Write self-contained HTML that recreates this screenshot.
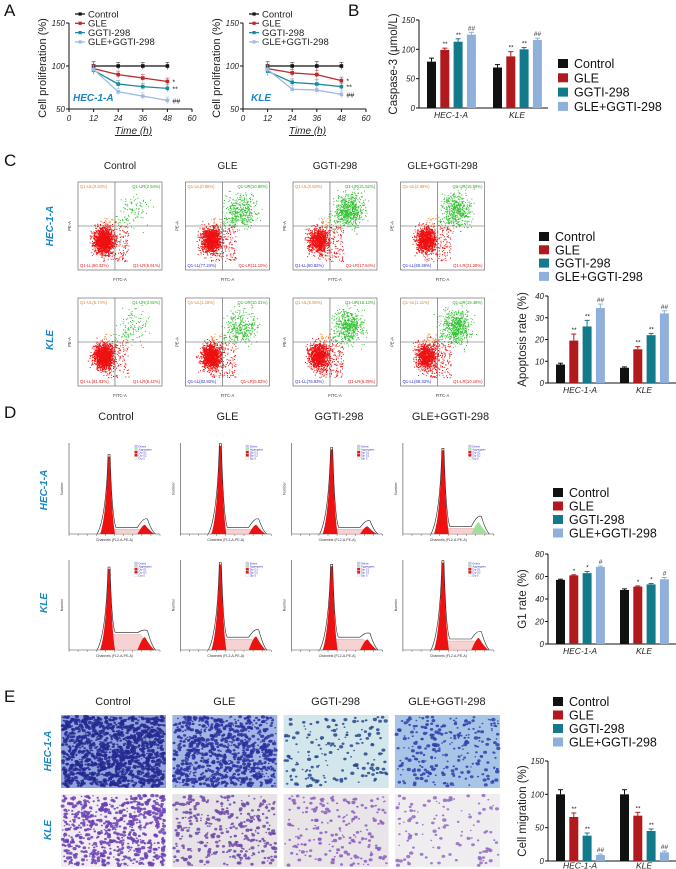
<!DOCTYPE html>
<html><head><meta charset="utf-8">
<style>
html,body{margin:0;padding:0;background:#fff;}
svg{display:block;font-family:"Liberation Sans",Arial,sans-serif;}
</style></head>
<body>
<svg id="fig" width="676" height="869" viewBox="0 0 676 869" xmlns="http://www.w3.org/2000/svg">
<g font-size="17" fill="#111">
<text x="4" y="16">A</text><text x="348" y="16">B</text><text x="4" y="166">C</text><text x="4" y="418">D</text><text x="4" y="702">E</text>
</g>
<g id="gA"></g>
<g id="gB"></g>
<g id="gC"></g>
<g id="gD"></g>
<g id="gE"></g>
</svg>
<script>
// ---------- data ----------
const groups = ["Control","GLE","GGTI-298","GLE+GGTI-298"];
const cellLines = ["HEC-1-A","KLE"];
const timePoints = [12,24,36,48];
const aTicksX = [0,12,24,36,48,60];
const aTicksY = [50,100,150];
const hecControl = [100,100,100,100];
const hecGLE = [97,90,86,82];
const hecGGTI = [95,79,76,74];
const hecCombo = [96,70,65,60];
const hecErr = [5,4,4,4];
const kleControl = [100,100,100,100];
const kleGLE = [97,92,90,83];
const kleGGTI = [94,81,79,76];
const kleCombo = [96,73,72,67];
const kleErr = [5,4,5,4];
const aMarks = ["*","**","##"];

const casHEC = [79,99,113,125];
const casKLE = [69,88,100,116];
const casErrHEC = [6,3,5,4];
const casErrKLE = [5,8,3,3];
const casTicks = [0,50,100,150];
const casMarks = ["","**","**","##"];

const apoHEC = [8.5,19.5,26,34.5];
const apoKLE = [7,15.5,22,32];
const apoErrHEC = [0.6,3,2.8,1.8];
const apoErrKLE = [0.4,1.2,0.8,1.2];
const apoTicks = [0,10,20,30,40];
const apoMarks = ["","**","**","##"];

const g1HEC = [57,61,63,68.5];
const g1KLE = [48,51,53,57.5];
const g1ErrHEC = [0.6,0.5,1.5,0.8];
const g1ErrKLE = [1,0.6,0.8,1.6];
const g1Ticks = [0,20,40,60,80];
const g1Marks = ["","*","*","#"];

const migHEC = [100,66,38,9];
const migKLE = [100,68,45,13];
const migErrHEC = [7,6,4,1.5];
const migErrKLE = [7,5,3,2];
const migTicks = [0,50,100,150];
const migMarks = ["","**","**","##"];

const colors = ["#111111","#b2191e","#137a8c","#8fb0db"];
const lineColors = ["#111111","#c0272d","#1b8a9b","#9dbbe3"];
const NS="http://www.w3.org/2000/svg";
function mk(parent,tag,attrs,text){const e=document.createElementNS(NS,tag);for(const k in attrs)e.setAttribute(k,attrs[k]);if(text!==undefined)e.textContent=text;parent.appendChild(e);return e;}

// ---------- Panel A ----------
function lineChart(g,axX,label,series,err,labX){
  const y0=109,yTop=23,x1=axX+123;
  const sx=v=>axX+(v/60)*(x1-axX);
  const sy=v=>y0-(v-50)/100*(y0-yTop);
  mk(g,"line",{x1:axX,y1:yTop,x2:axX,y2:y0,stroke:"#111","stroke-width":1});
  mk(g,"line",{x1:axX,y1:y0,x2:x1,y2:y0,stroke:"#111","stroke-width":1});
  aTicksY.forEach(t=>{mk(g,"line",{x1:axX-3,y1:sy(t),x2:axX,y2:sy(t),stroke:"#111"});
    const tl=mk(g,"text",{x:axX-4,y:sy(t)+3,"font-size":8,"font-style":"italic","text-anchor":"end",fill:"#222"},t);
    });
  aTicksX.forEach(t=>{mk(g,"line",{x1:sx(t),y1:y0,x2:sx(t),y2:y0+3,stroke:"#111"});
    const tl=mk(g,"text",{x:sx(t),y:y0+12,"font-size":8,"font-style":"italic","text-anchor":"middle",fill:"#222"},t);
    });
  const xt=mk(g,"text",{x:(axX+x1)/2+3,y:134,"font-size":10,"font-style":"italic","text-anchor":"middle",fill:"#222","text-decoration":"underline"},"Time (h)");
  
  const yt=mk(g,"text",{x:0,y:0,"font-size":11,"text-anchor":"middle",fill:"#222",transform:`translate(${axX-23},${(y0+yTop)/2+2}) rotate(-90)`},"Cell proliferation (%)");
  
  series.forEach((s,i)=>{
    const pts=s.map((v,j)=>sx(timePoints[j])+","+sy(v)).join(" ");
    const pl=mk(g,"polyline",{points:pts,fill:"none",stroke:lineColors[i],"stroke-width":1.3});
    
    
    s.forEach((v,j)=>{
      const cx=sx(timePoints[j]),cy=sy(v),e=err[j]*(y0-yTop)/100;
      mk(g,"line",{x1:cx,y1:cy-e,x2:cx,y2:cy+e,stroke:lineColors[i],"stroke-width":0.7,opacity:0.7});
      mk(g,"line",{x1:cx-2,y1:cy-e,x2:cx+2,y2:cy-e,stroke:lineColors[i],"stroke-width":0.7,opacity:0.7});
      const p=mk(g,"rect",{x:cx-1.8,y:cy-1.8,width:3.6,height:3.6,fill:lineColors[i]});
      
    });
    if(i>0){mk(g,"text",{x:sx(48)+5,y:sy(s[3])+3,"font-size":7,"font-style":i==3?"italic":"normal",fill:"#222"},aMarks[i-1]);}
  });
  const cl=mk(g,"text",{x:labX,y:101,"font-size":10,"font-weight":"bold","font-style":"italic",fill:"#1a86c2"},label);
  
  groups.forEach((nm,i)=>{
    const ly=14+i*9.3;
    mk(g,"line",{x1:axX+6,y1:ly,x2:axX+16,y2:ly,stroke:lineColors[i],"stroke-width":1.3});
    mk(g,"rect",{x:axX+9.5,y:ly-1.6,width:3.2,height:3.2,fill:lineColors[i]});
    const lt=mk(g,"text",{x:axX+19,y:ly+3.3,"font-size":9.5,fill:"#222"},nm);
    
  });
}
const gA=document.getElementById("gA");
lineChart(gA,69,"HEC-1-A",[hecControl,hecGLE,hecGGTI,hecCombo],hecErr,73);
lineChart(gA,243,"KLE",[kleControl,kleGLE,kleGGTI,kleCombo],kleErr,251);

// ---------- generic bar chart ----------
function barChart(g,o){
  const sy=v=>o.y0-(v/o.max)*(o.y0-o.yTop);
  const labOff=o.labOff||10;
  mk(g,"line",{x1:o.ax,y1:o.yTop,x2:o.ax,y2:o.y0,stroke:"#111"});
  mk(g,"line",{x1:o.ax,y1:o.y0,x2:o.ax+o.xLen,y2:o.y0,stroke:"#111"});
  o.ticks.forEach(t=>{mk(g,"line",{x1:o.ax-3,y1:sy(t),x2:o.ax,y2:sy(t),stroke:"#111"});
    const tl=mk(g,"text",{x:o.ax-4,y:sy(t)+3,"font-size":8,"font-style":"italic","text-anchor":"end",fill:"#222"},t);
    });
  const yt=mk(g,"text",{x:0,y:0,"font-size":11.5,"text-anchor":"middle",fill:"#222",transform:`translate(${o.ax-22},${(o.y0+o.yTop)/2}) rotate(-90)`},o.title);
  
  [o.d1,o.d2].forEach((d,gi)=>{
    const start=o.ax+(gi==0?8:o.g2off);
    const errs=gi==0?o.e1:o.e2;
    d.forEach((v,i)=>{
      const x=start+i*13.3, y=sy(v);
      const b=mk(g,"rect",{x:x,y:y,width:9,height:o.y0-y,fill:colors[i]});
      
      
      const e=errs[i]/o.max*(o.y0-o.yTop);
      mk(g,"line",{x1:x+4.5,y1:y,x2:x+4.5,y2:y-e,stroke:colors[i],"stroke-width":1});
      mk(g,"line",{x1:x+2,y1:y-e,x2:x+7,y2:y-e,stroke:colors[i],"stroke-width":1});
      if(o.marks[i])mk(g,"text",{x:x+4.5,y:y-e-2,"font-size":6.5,"font-style":"italic","text-anchor":"middle",fill:"#222"},o.marks[i]);
    });
    const gl=mk(g,"text",{x:start+24,y:o.y0+labOff,"font-size":8.5,"font-style":"italic","text-anchor":"middle",fill:"#222"},cellLines[gi]);
    
  });
}
function legend(g,x,y,step,fs){
  groups.forEach((nm,i)=>{
    const r=mk(g,"rect",{x:x,y:y+i*step-5,width:10,height:9,fill:colors[i]});
    
    const t=mk(g,"text",{x:x+16,y:y+i*step+4,"font-size":fs,fill:"#111"},nm);
    
  });
}
const gB=document.getElementById("gB");
barChart(gB,{ax:419,y0:108,yTop:20,max:150,xLen:129,g2off:74,d1:casHEC,d2:casKLE,e1:casErrHEC,e2:casErrKLE,ticks:casTicks,marks:casMarks,title:"Caspase-3 (μmol/L)"});
legend(gB,558,64,14.3,12.5);

// ---------- seeded rng (decorative textures) ----------
let seed=12345;function rnd(){seed=(seed*16807)%2147483647;return (seed-1)/2147483646;}
function gauss(){return (rnd()+rnd()+rnd()+rnd()-2)/0.8;}

// ---------- Panel C ----------
const gC=document.getElementById("gC");
const flowGreen=[[0.03,0.13,0.22,0.18],[0.04,0.12,0.18,0.2]];
const flowLabels=[
 [["Q1-UL(0.23%)","Q1-UR(2.54%)","Q1-LL(90.32%)","Q1-LR(6.91%)"],["Q1-UL(0.88%)","Q1-UR(10.80%)","Q1-LL(77.24%)","Q1-LR(11.10%)"],["Q1-UL(0.53%)","Q1-UR(21.52%)","Q1-LL(60.82%)","Q1-LR(17.64%)"],["Q1-UL(2.68%)","Q1-UR(15.59%)","Q1-LL(60.49%)","Q1-LR(21.28%)"]],
 [["Q1-UL(5.74%)","Q1-UR(3.92%)","Q1-LL(81.93%)","Q1-LR(8.42%)"],["Q1-UL(1.18%)","Q1-UR(10.31%)","Q1-LL(82.93%)","Q1-LR(5.63%)"],["Q1-UL(0.55%)","Q1-UR(16.13%)","Q1-LL(76.93%)","Q1-LR(6.39%)"],["Q1-UL(1.11%)","Q1-UR(19.48%)","Q1-LL(68.33%)","Q1-LR(10.16%)"]]];
groups.forEach((nm,c)=>{const t=mk(gC,"text",{x:120+c*107.5,y:169,"font-size":10,"text-anchor":"middle",fill:"#222"},nm);
  });
["HEC-1-A","KLE"].forEach((nm,r)=>{const t=mk(gC,"text",{x:0,y:0,"font-size":10,"font-weight":"bold","font-style":"italic","text-anchor":"middle",fill:"#1a86c2",transform:`translate(${53},${226+r*114}) rotate(-90)`},nm);
  });
for(let r=0;r<2;r++)for(let c=0;c<4;c++){
  const x=78+c*107.5,y=182+r*116,w=84,h=88;
  const pg=mk(gC,"g",{});
  mk(pg,"rect",{x:x,y:y,width:w,height:h,fill:"#fff",stroke:"#555","stroke-width":0.6});
  const qx=x+w*0.44,qy=y+h*0.5;
  const N=1700;
  for(let i=0;i<N;i++){
    let px,py,col;
    const u=rnd();
    if(u<flowGreen[r][c]*1.6){px=x+w*(0.66+0.12*gauss());py=y+h*(0.32+0.13*gauss());col="#33c033";}
    else if(u<0.88){px=x+w*(0.3+0.08*gauss());py=y+h*(0.66+0.1*gauss());col="#ee1111";}
    else{px=x+w*(0.3+0.3*rnd());py=y+h*(0.4+0.5*rnd());col=(py<qy)?"#33c033":"#ee1111";if(px<qx&&py<qy)col="#f09030";}
    if(px<x+2||px>x+w-2||py<y+2||py>y+h-2)continue;
    mk(pg,"rect",{x:px.toFixed(1),y:py.toFixed(1),width:1,height:1,fill:col});
  }
  mk(pg,"line",{x1:qx,y1:y,x2:qx,y2:y+h,stroke:"#555","stroke-width":0.6});
  mk(pg,"line",{x1:x,y1:qy,x2:x+w,y2:qy,stroke:"#555","stroke-width":0.6});
  const L=flowLabels[r][c];
  mk(pg,"text",{x:x+2,y:y+6,"font-size":4.2,fill:"#e08a30"},L[0]);
  mk(pg,"text",{x:x+w-2,y:y+6,"font-size":4.2,fill:"#22aa22","text-anchor":"end"},L[1]);
  mk(pg,"text",{x:x+2,y:y+h-3,"font-size":4.2,fill:c==0?"#e02020":"#3030cc"},L[2]);
  mk(pg,"text",{x:x+w-2,y:y+h-3,"font-size":4.2,fill:"#e02020","text-anchor":"end"},L[3]);
  mk(pg,"text",{x:x+w/2,y:y+h+11,"font-size":4.2,fill:"#333","text-anchor":"middle"},"FITC-A");
  mk(pg,"text",{x:0,y:0,"font-size":4.2,fill:"#333","text-anchor":"middle",transform:`translate(${x-7},${y+h/2}) rotate(-90)`},"PE-A");
}
barChart(gC,{ax:548,y0:383,yTop:296,max:40,xLen:128,g2off:72,d1:apoHEC,d2:apoKLE,e1:apoErrHEC,e2:apoErrKLE,ticks:apoTicks,marks:apoMarks,title:"Apoptosis rate (%)"});
legend(gC,539,237,13.3,12.5);

// ---------- Panel D ----------
const gD=document.getElementById("gD");
const peakH=[[0.85,0.97,0.93,0.92],[0.9,0.95,0.93,0.97]];
const g2H=[[0.12,0.12,0.1,0.15],[0.17,0.18,0.14,0.16]];
const sH=[[0.05,0.05,0.05,0.06],[0.17,0.12,0.12,0.1]];
groups.forEach((nm,c)=>{const t=mk(gD,"text",{x:116+c*111.5,y:420,"font-size":11,"text-anchor":"middle",fill:"#222"},nm);
  });
["HEC-1-A","KLE"].forEach((nm,r)=>{const t=mk(gD,"text",{x:0,y:0,"font-size":10,"font-weight":"bold","font-style":"italic","text-anchor":"middle",fill:"#1a86c2",transform:`translate(${47},${490+r*113}) rotate(-90)`},nm);
  });
for(let r=0;r<2;r++)for(let c=0;c<4;c++){
  const x=69+c*111.3,base=r==0?534:650,top=r==0?443:560,w=91,h=base-top;
  const pg=mk(gD,"g",{});
  mk(pg,"line",{x1:x,y1:top,x2:x,y2:base,stroke:"#444","stroke-width":0.6});
  mk(pg,"line",{x1:x,y1:base,x2:x+w,y2:base,stroke:"#444","stroke-width":0.6});
  for(let k=0;k<=10;k++)mk(pg,"line",{x1:x+k*w/10,y1:base,x2:x+k*w/10,y2:base+2,stroke:"#444","stroke-width":0.4});
  const px=x+w*0.44,gx=x+w*0.84,H=h*peakH[r][c],G=h*g2H[r][c],S=h*sH[r][c];
  mk(pg,"path",{d:`M${px} ${base} L${px+4} ${base-S} L${gx-5} ${base-S} L${gx+6} ${base} Z`,fill:"#f6d2d2",stroke:"#d88","stroke-width":0.4});
  mk(pg,"path",{d:`M${px-9} ${base} Q${px-3} ${base-H*0.2} ${px-1} ${base-H} L${px+1} ${base-H} Q${px+3} ${base-H*0.2} ${px+6} ${base} Z`,fill:"#ee1111"});
  mk(pg,"path",{d:`M${gx-8} ${base} Q${gx-2} ${base-G} ${gx} ${base-G*0.8} Q${gx+4} ${base-G*0.3} ${gx+9} ${base} Z`,fill:(r==0&&c==3)?"#9ce09c":"#ee1111"});
  mk(pg,"path",{d:`M${px-12} ${base} Q${px-3} ${base-H*0.2} ${px-1} ${base-H-2} L${px+1} ${base-H-2} Q${px+3} ${base-H*0.2} ${px+7} ${base-S-2} L${gx-8} ${base-S-2} Q${gx-2} ${base-G-6} ${gx+2} ${base-G-4} Q${gx+6} ${base-G*0.3} ${gx+10} ${base}`,fill:"none",stroke:"#222","stroke-width":0.6});
  ["#c8c8f0","#b8e8b8","#ee1111","#ee1111","#fff"].forEach((cc,k)=>{mk(pg,"rect",{x:x+w*0.72,y:top+2+k*3,width:3,height:2.5,fill:cc,stroke:"#aaa","stroke-width":0.2});
    mk(pg,"text",{x:x+w*0.72+4,y:top+4.3+k*3,"font-size":2.6,fill:"#33c"},["Debris","Aggregates","Dip G1","Dip G2","Dip S"][k]);});
  mk(pg,"text",{x:x+w/2,y:base+7,"font-size":3.5,fill:"#333","text-anchor":"middle"},"Channels (FL2-A-PE-A)");
  mk(pg,"text",{x:0,y:0,"font-size":3.5,fill:"#333","text-anchor":"middle",transform:`translate(${x-6},${top+h/2}) rotate(-90)`},"Number");
}
barChart(gD,{ax:548,y0:644,yTop:554,max:80,xLen:128,g2off:72,d1:g1HEC,d2:g1KLE,e1:g1ErrHEC,e2:g1ErrKLE,ticks:g1Ticks,marks:g1Marks,title:"G1 rate (%)"});
legend(gD,553,493,13.5,12.5);

// ---------- Panel E ----------
const gE=document.getElementById("gE");
groups.forEach((nm,c)=>{const t=mk(gE,"text",{x:113+c*111.3,y:705,"font-size":11,"text-anchor":"middle",fill:"#222"},nm);
  });
["HEC-1-A","KLE"].forEach((nm,r)=>{const t=mk(gE,"text",{x:0,y:0,"font-size":10,"font-weight":"bold","font-style":"italic","text-anchor":"middle",fill:"#1a86c2",transform:`translate(${51},${751+r*79}) rotate(-90)`},nm);
  });
const bgs=[["#8ea2dc","#a2b6e4","#d3e6ec","#a8c4e6"],["#f1ecf1","#e7e2e6","#e9e4e8","#efedef"]];
const dotC=[["#25288f","#2a2f9c","#25488e","#2f3ea8"],["#6a3fb4","#6d48a8","#8a5cc0","#9068c4"]];
const dens=[[1300,850,170,260],[650,330,200,120]];
for(let r=0;r<2;r++)for(let c=0;c<4;c++){
  const x=61+c*111.3,y=r==0?715:794,w=105,h=73;
  const pg=mk(gE,"g",{});
  mk(pg,"rect",{x:x,y:y,width:w,height:h,fill:bgs[r][c]});
  for(let i=0;i<dens[r][c];i++){
    const px=x+1.5+rnd()*(w-3),py=y+1.5+rnd()*(h-3),s=0.8+rnd()*1.4;
    mk(pg,"ellipse",{cx:px.toFixed(1),cy:py.toFixed(1),rx:s.toFixed(1),ry:(s*0.8).toFixed(1),fill:dotC[r][c],opacity:0.85});
  }
}
barChart(gE,{ax:548,y0:861,yTop:761,max:150,xLen:128,g2off:72,labOff:7.5,d1:migHEC,d2:migKLE,e1:migErrHEC,e2:migErrKLE,ticks:migTicks,marks:migMarks,title:"Cell migration (%)"});
legend(gE,553,702,13.5,12.5);
</script>
</body></html>
